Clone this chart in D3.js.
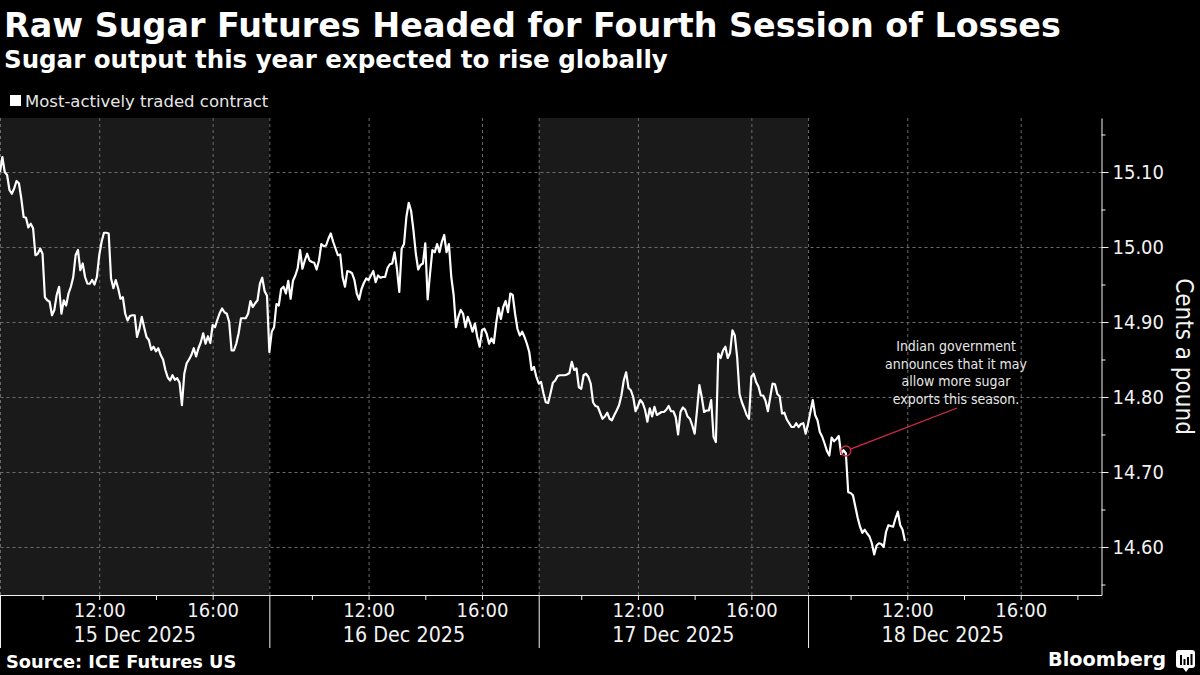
<!DOCTYPE html>
<html>
<head>
<meta charset="utf-8">
<title>Raw Sugar Futures</title>
<script src="https://cdn.jsdelivr.net/npm/d3@7"></script>
<style>
  html, body { margin: 0; padding: 0; background: #000; }
  svg text { font-family: "DejaVu Sans Condensed", "DejaVu Sans", sans-serif; font-stretch: condensed; fill: #f2f2f2; }
  .headline { font-family: "DejaVu Sans", sans-serif; font-stretch: normal; font-weight: bold; fill: #fff; }
  .plain { font-family: "DejaVu Sans", sans-serif; font-stretch: normal; }
  .gridlines .domain { display: none; }
  .gridlines line { stroke: #6a6a6a; stroke-dasharray: 3,3; }
  .axis .domain, .axis line { stroke: #f2f2f2; }
</style>
</head>
<body>
<svg id="chart" width="1200" height="675"></svg>
<script>
// ---- data: most-actively traded raw sugar contract, cents a pound, 5-minute marks from 08:30 ----
const sessionLabels = ["15 Dec 2025", "16 Dec 2025", "17 Dec 2025", "18 Dec 2025"];

const s15 = [15.100, 15.120, 15.100, 15.096, 15.076, 15.071, 15.078, 15.088, 15.085, 15.065,
  15.040, 15.039, 15.026, 15.031, 15.025, 14.989, 14.991, 14.998, 14.991, 14.933,
  14.929, 14.927, 14.909, 14.916, 14.936, 14.947, 14.911, 14.929, 14.922, 14.938,
  14.947, 14.960, 14.989, 14.996, 14.969, 14.978, 14.960, 14.951, 14.951, 14.956,
  14.950, 14.960, 14.989, 15.007, 15.019, 15.019, 15.018, 14.958, 14.945, 14.956,
  14.945, 14.931, 14.933, 14.911, 14.902, 14.908, 14.909, 14.909, 14.880, 14.891,
  14.907, 14.893, 14.880, 14.876, 14.863, 14.867, 14.861, 14.865, 14.856, 14.850,
  14.836, 14.826, 14.822, 14.829, 14.823, 14.825, 14.819, 14.789, 14.831, 14.845,
  14.850, 14.856, 14.865, 14.854, 14.865, 14.873, 14.885, 14.871, 14.881, 14.872,
  14.896, 14.893, 14.903, 14.912, 14.918, 14.913, 14.911, 14.900, 14.862, 14.862,
  14.871, 14.885, 14.905, 14.905, 14.905, 14.911, 14.928, 14.920, 14.925, 14.929,
  14.951, 14.959, 14.941, 14.935];

const s16 = [14.860, 14.887, 14.893, 14.924, 14.922, 14.944, 14.947, 14.938, 14.955, 14.931,
  14.955, 14.962, 14.972, 14.996, 14.971, 14.982, 14.991, 14.982, 14.980, 14.979,
  14.970, 14.982, 15.004, 15.001, 15.002, 15.011, 15.018, 15.007, 14.998, 14.989,
  14.990, 14.960, 14.947, 14.968, 14.967, 14.965, 14.956, 14.938, 14.930, 14.944,
  14.952, 14.958, 14.956, 14.962, 14.968, 14.953, 14.962, 14.959, 14.960, 14.960,
  14.972, 14.977, 14.978, 14.993, 14.971, 14.940, 14.998, 15.004, 15.040, 15.059,
  15.048, 15.022, 14.991, 14.970, 14.976, 14.978, 15.005, 14.930, 14.964, 14.996,
  14.993, 15.004, 14.993, 15.007, 15.016, 14.993, 15.004, 14.960, 14.936, 14.893,
  14.907, 14.916, 14.911, 14.893, 14.907, 14.898, 14.887, 14.898, 14.880, 14.867,
  14.889, 14.891, 14.884, 14.871, 14.878, 14.872, 14.898, 14.919, 14.904, 14.920,
  14.928, 14.913, 14.938, 14.936, 14.911, 14.891, 14.882, 14.887, 14.880, 14.871,
  14.860, 14.836, 14.840, 14.827];

const s17 = [14.818, 14.820, 14.805, 14.793, 14.792, 14.805, 14.819, 14.822, 14.828, 14.829,
  14.829, 14.829, 14.830, 14.832, 14.847, 14.836, 14.838, 14.813, 14.811, 14.829,
  14.831, 14.827, 14.818, 14.793, 14.788, 14.787, 14.779, 14.771, 14.774, 14.779,
  14.771, 14.769, 14.776, 14.782, 14.789, 14.802, 14.822, 14.833, 14.812, 14.809,
  14.800, 14.781, 14.788, 14.796, 14.792, 14.783, 14.767, 14.785, 14.774, 14.787,
  14.776, 14.778, 14.780, 14.780, 14.783, 14.788, 14.781, 14.781, 14.773, 14.750,
  14.780, 14.786, 14.783, 14.774, 14.771, 14.762, 14.751, 14.782, 14.816, 14.800,
  14.780, 14.782, 14.782, 14.796, 14.747, 14.740, 14.858, 14.852, 14.862, 14.867,
  14.852, 14.859, 14.889, 14.882, 14.853, 14.804, 14.793, 14.785, 14.776, 14.771,
  14.827, 14.831, 14.820, 14.814, 14.802, 14.802, 14.795, 14.781, 14.800, 14.818,
  14.817, 14.804, 14.801, 14.778, 14.779, 14.770, 14.765, 14.760, 14.760, 14.765,
  14.760, 14.764, 14.765, 14.751];

const s18 = [14.764, 14.780, 14.796, 14.776, 14.769, 14.753, 14.747, 14.738, 14.728, 14.722,
  14.746, 14.741, 14.744, 14.748, 14.724, 14.729, 14.725, 14.673, 14.672, 14.669,
  14.654, 14.639, 14.627, 14.619, 14.623, 14.618, 14.614, 14.605, 14.590, 14.602,
  14.605, 14.604, 14.600, 14.620, 14.629, 14.628, 14.627, 14.638, 14.647, 14.629,
  14.623, 14.608];

const yTicks = [14.60, 14.70, 14.80, 14.90, 15.00, 15.10];
const yMinorTicks = [14.55, 14.65, 14.75, 14.85, 14.95, 15.05, 15.15];
const hourTicks = [10, 12, 14, 16];          // hour-of-day ticks inside each session
const hourLabels = [12, 16];                 // which of them get a label

const noteSession = 3, noteHour = 9 + 50 / 60, noteValue = 14.728;
const noteLines = ["Indian government", "announces that it may", "allow more sugar", "exports this season."];

// ---- setup ----
const svg = d3.select("#chart");
const sessionOpen = 8.5, sessionHours = 9.5;   // ICE session 08:30 - 18:00, sessions butted together
const plot = { left: 0, right: 1101.5, top: 118, bottom: 595 };

const toAxisHour = (s, h) => s * sessionHours + h - sessionOpen;

const xScale = d3.scaleLinear()
  .domain([0, 38.85])
  .range([plot.left, plot.right]);

const yScale = d3.scaleLinear()
  .domain([14.536, 15.172])
  .range([plot.bottom, plot.top]);

// shaded alternate sessions
svg.selectAll(".band")
  .data(sessionLabels.filter((d, i) => i % 2 === 0).map((d, j) => j * 2))
  .join("rect")
  .attr("class", "band")
  .attr("x", s => xScale(toAxisHour(s, sessionOpen)))
  .attr("width", s => xScale(toAxisHour(s, sessionOpen + sessionHours)) - xScale(toAxisHour(s, sessionOpen)))
  .attr("y", plot.top)
  .attr("height", plot.bottom - plot.top)
  .attr("fill", "#1a1a1a");

// gridlines
const sessionStarts = sessionLabels.map((d, s) => toAxisHour(s, sessionOpen));
const labelHours = sessionLabels.flatMap((d, s) => hourLabels.map(h => toAxisHour(s, h)));

svg.append("g")
  .attr("class", "gridlines")
  .attr("transform", `translate(0,${plot.bottom})`)
  .call(d3.axisBottom(xScale).tickValues(sessionStarts.concat(labelHours))
    .tickSize(-(plot.bottom - plot.top)).tickFormat(""));

svg.append("g")
  .attr("class", "gridlines")
  .attr("transform", `translate(${plot.right},0)`)
  .call(d3.axisLeft(yScale).tickValues(yTicks)
    .tickSize(plot.right - plot.left).tickFormat(""));

// x axis: hour ticks, session dividers, date labels
const hourValues = sessionLabels.flatMap((d, s) =>
  (s === sessionLabels.length - 1 ? hourTicks.concat([18]) : hourTicks).map(h => ({ s, h })));

const xAxis = svg.append("g")
  .attr("class", "axis")
  .attr("transform", `translate(0,${plot.bottom})`)
  .call(d3.axisBottom(xScale)
    .tickValues(hourValues.map(d => toAxisHour(d.s, d.h)))
    .tickSize(5).tickSizeOuter(0)
    .tickFormat((d, i) => hourLabels.includes(hourValues[i].h) ? d3.format("02")(hourValues[i].h) + ":00" : ""));

xAxis.selectAll("text")
  .attr("y", 22).attr("dy", 0)
  .style("font-size", "20px");

svg.append("g")
  .attr("class", "axis")
  .attr("transform", `translate(0,${plot.bottom})`)
  .call(d3.axisBottom(xScale).tickValues(sessionStarts).tickSize(53).tickFormat(""))
  .select(".domain").remove();

svg.selectAll(".date-label")
  .data(sessionLabels)
  .join("text")
  .attr("class", "date-label")
  .attr("x", (d, s) => xScale(toAxisHour(s, sessionOpen + sessionHours / 2)))
  .attr("y", 642)
  .attr("text-anchor", "middle")
  .style("font-size", "21.3px")
  .text(d => d);

// y axis on the right
const yAxis = svg.append("g")
  .attr("class", "axis")
  .attr("transform", `translate(${plot.right},0)`)
  .call(d3.axisRight(yScale).tickValues(yTicks).tickSize(7).tickPadding(4)
    .tickSizeOuter(0).tickFormat(d3.format(".2f")));

yAxis.selectAll("text").style("font-size", "20px");

svg.append("g")
  .attr("class", "axis")
  .attr("transform", `translate(${plot.right},0)`)
  .call(d3.axisRight(yScale).tickValues(yMinorTicks).tickSize(4).tickFormat(""))
  .select(".domain").remove();

svg.append("text")
  .attr("transform", `translate(1176,${(plot.top + plot.bottom) / 2}) rotate(90)`)
  .attr("text-anchor", "middle")
  .style("font-size", "24px")
  .text("Cents a pound");

// the price line
const points = [s15, s16, s17, s18].flatMap((vals, s) =>
  vals.map((v, i) => ({ t: toAxisHour(s, sessionOpen + i * 5 / 60), v })));

const lineGen = d3.line()
  .x(d => xScale(d.t))
  .y(d => yScale(d.v));

svg.append("path")
  .datum(points)
  .attr("d", lineGen)
  .attr("fill", "none")
  .attr("stroke", "#fff")
  .attr("stroke-width", 2.2)
  .attr("stroke-linejoin", "round");

// annotation
const nx = xScale(toAxisHour(noteSession, noteHour)), ny = yScale(noteValue);
const tx = 957, ty = 408, r = 5;
const dx = tx - nx, dy = ty - ny, len = Math.hypot(dx, dy);

svg.append("circle")
  .attr("cx", nx).attr("cy", ny).attr("r", r)
  .attr("fill", "none").attr("stroke", "#d6294a").attr("stroke-width", 1.3);

svg.append("line")
  .attr("x1", nx + dx / len * r).attr("y1", ny + dy / len * r)
  .attr("x2", tx).attr("y2", ty)
  .attr("stroke", "#d6294a").attr("stroke-width", 1.3);

svg.append("text")
  .attr("x", 956).attr("y", 351)
  .attr("text-anchor", "middle")
  .style("font-size", "14px").style("fill", "#e6e6e6")
  .selectAll("tspan")
  .data(noteLines)
  .join("tspan")
  .attr("x", 956)
  .attr("dy", (d, i) => i === 0 ? 0 : 17.5)
  .text(d => d);

// headline, subtitle, legend
svg.append("text").attr("class", "headline")
  .attr("x", 4).attr("y", 37).style("font-size", "33.4px")
  .text("Raw Sugar Futures Headed for Fourth Session of Losses");

svg.append("text").attr("class", "headline")
  .attr("x", 4).attr("y", 68).style("font-size", "24.5px")
  .text("Sugar output this year expected to rise globally");

svg.append("rect").attr("x", 10).attr("y", 95).attr("width", 11).attr("height", 11).attr("fill", "#fff");
svg.append("text").attr("class", "plain")
  .attr("x", 25).attr("y", 107).style("font-size", "16.5px").style("fill", "#e6e6e6")
  .text("Most-actively traded contract");

// footer
svg.append("text").attr("class", "headline")
  .attr("x", 6).attr("y", 668).style("font-size", "17.8px")
  .text("Source: ICE Futures US");

svg.append("text").attr("class", "headline")
  .attr("x", 1048).attr("y", 666).style("font-size", "19.3px")
  .text("Bloomberg");

const logo = svg.append("g").attr("transform", "translate(1176,650)");
logo.append("rect").attr("width", 19).attr("height", 18).attr("rx", 3).attr("fill", "#fff");
logo.append("path").attr("d", "M7,18 L10,22 L13,18 Z").attr("fill", "#fff");
logo.selectAll(".bar")
  .data([[4, 10], [7.5, 6], [11, 8], [14.5, 11]])
  .join("rect")
  .attr("x", d => d[0]).attr("y", d => 15 - d[1])
  .attr("width", 2).attr("height", d => d[1])
  .attr("fill", "#000");
</script>
</body>
</html>
